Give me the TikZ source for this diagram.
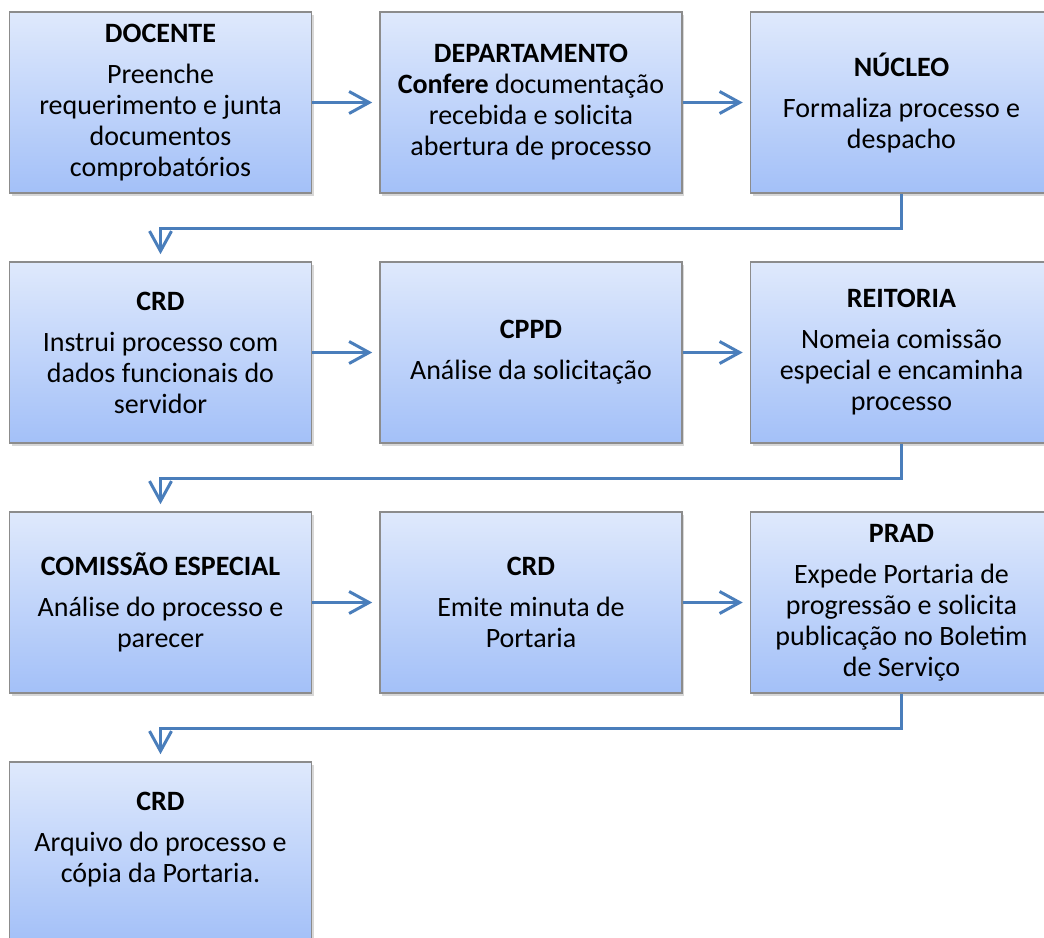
\documentclass[tikz,border=0pt]{standalone}
\usepackage{fontspec}
\setmainfont{Carlito}
\usetikzlibrary{arrows.meta,shadows}

\definecolor{boxtop}{RGB}{223,233,252}
\definecolor{boxbottom}{RGB}{163,192,248}
\definecolor{boxline}{RGB}{140,140,140}
\definecolor{linkblue}{RGB}{74,126,187}

\tikzset{
  box/.style={draw=boxline, line width=0.8pt,
    top color=boxtop, bottom color=boxbottom,
    minimum width=151pt, minimum height=90.5pt,
    align=center, inner sep=2pt,
    font=\fontsize{14pt}{15.5pt}\selectfont,
    drop shadow={shadow xshift=1.2pt, shadow yshift=-1.5pt, opacity=0.35, fill=black!45}},
  link/.style={draw=linkblue, line width=1.5pt,
    -{Straight Barb[length=10pt, width=11pt]}, shorten >=3.5pt}
}

\begin{document}
\begin{tikzpicture}[x=0.5pt, y=-0.5pt]
  % page frame (pixel grid, y down)
  \useasboundingbox (0,0) rectangle (1044,937);

  % --- row 1 ---
  \node[box] (docente) at (160.5,102.5)
    {\textbf{DOCENTE}\\[5pt]Preenche\\requerimento e junta\\documentos\\comprobatórios};
  \node[box] (depto) at (531,102.5)
    {\textbf{DEPARTAMENTO}\\\textbf{Confere} documentação\\recebida e solicita\\abertura de processo};
  \node[box] (nucleo) at (901.5,102.5)
    {\textbf{NÚCLEO}\\[5pt]Formaliza processo e\\despacho};

  % --- row 2 ---
  \node[box] (crdA) at (160.5,352.5)
    {\textbf{CRD}\\[5pt]Instrui processo com\\dados funcionais do\\servidor};
  \node[box] (cppd) at (531,352.5)
    {\textbf{CPPD}\\[5pt]Análise da solicitação};
  \node[box] (reitoria) at (901.5,352.5)
    {\textbf{REITORIA}\\[5pt]Nomeia comissão\\especial e encaminha\\processo};

  % --- row 3 ---
  \node[box] (comissao) at (160.5,602.5)
    {\textbf{COMISSÃO ESPECIAL}\\[5pt]Análise do processo e\\parecer};
  \node[box] (crdB) at (531,602.5)
    {\textbf{CRD}\\[5pt]Emite minuta de\\Portaria};
  \node[box] (prad) at (901.5,602.5)
    {\textbf{PRAD}\\[5pt]Expede Portaria de\\progressão e solicita\\publicação no Boletim\\de Serviço};

  % --- row 4 ---
  \node[box] (crdC) at (160.5,852.5)
    {\textbf{CRD}\\[5pt]Arquivo do processo e\\cópia da Portaria.\\\mbox{}};

  % --- connectors within rows ---
  \draw[link] (docente) -- (depto);
  \draw[link] (depto) -- (nucleo);
  \draw[link] (crdA) -- (cppd);
  \draw[link] (cppd) -- (reitoria);
  \draw[link] (comissao) -- (crdB);
  \draw[link] (crdB) -- (prad);

  % --- connectors between rows ---
  \draw[link] (nucleo.south) -- ++(0,35) -| (crdA.north);
  \draw[link] (reitoria.south) -- ++(0,35) -| (comissao.north);
  \draw[link] (prad.south) -- ++(0,35) -| (crdC.north);
\end{tikzpicture}
\end{document}
